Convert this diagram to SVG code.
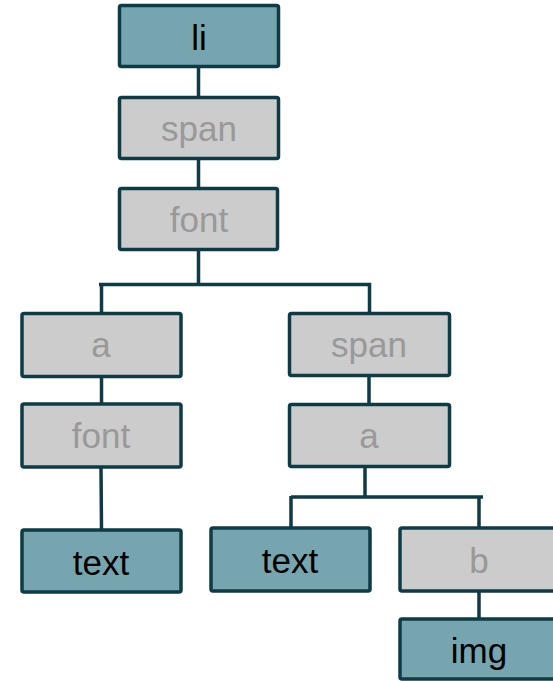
<svg xmlns="http://www.w3.org/2000/svg" width="553" height="681" viewBox="0 0 553 681">
<style>
.t rect{fill:#76A5AF;stroke:#0E3B45;stroke-width:3.5}
.g rect{fill:#CCCCCC;stroke:#0E3B45;stroke-width:3.5}
text{font-family:"Liberation Sans",Arial,sans-serif;font-size:35px;text-anchor:middle}
.t text{fill:#000}
.g text{fill:#999999}
.c{fill:none;stroke:#0E3B45;stroke-width:3.5}
</style>
<g id="connectors" class="c">
<path d="M198.5 66V97M198.5 159V188M198.5 250V284.5M99 284.5H369.5V313M101.5 284.5V313M101.5 377V403M101 467L101.5 529M369 376V404M365 467V497M291 497H483M291 496V527M479 496V527M479 592V618"/>
</g>
<g id="li" class="t"><rect x="119.5" y="5.5" width="159" height="61" rx="2"/><text x="199" y="50">li</text></g>
<g id="span1" class="g"><rect x="119.5" y="97.5" width="159" height="61" rx="2"/><text x="199" y="141">span</text></g>
<g id="font1" class="g"><rect x="119.5" y="188.5" width="158" height="61" rx="2"/><text x="199" y="232">font</text></g>
<g id="a1" class="g"><rect x="22" y="313.5" width="159" height="63" rx="2"/><text x="101" y="357">a</text></g>
<g id="font2" class="g"><rect x="22" y="404" width="159" height="63" rx="2"/><text x="101" y="448">font</text></g>
<g id="text1" class="t"><rect x="22" y="530" width="159" height="62" rx="2"/><text x="101" y="575">text</text></g>
<g id="span2" class="g"><rect x="289.5" y="313.5" width="160" height="62" rx="2"/><text x="369" y="357">span</text></g>
<g id="a2" class="g"><rect x="289.5" y="404.5" width="160" height="62" rx="2"/><text x="369" y="448">a</text></g>
<g id="text2" class="t"><rect x="211" y="528" width="159" height="63" rx="2"/><text x="290" y="573">text</text></g>
<g id="b" class="g"><rect x="400" y="528" width="160" height="63" rx="2"/><text x="479" y="573">b</text></g>
<g id="img" class="t"><rect x="400" y="619" width="160" height="60" rx="2"/><text x="479" y="663">img</text></g>
</svg>
